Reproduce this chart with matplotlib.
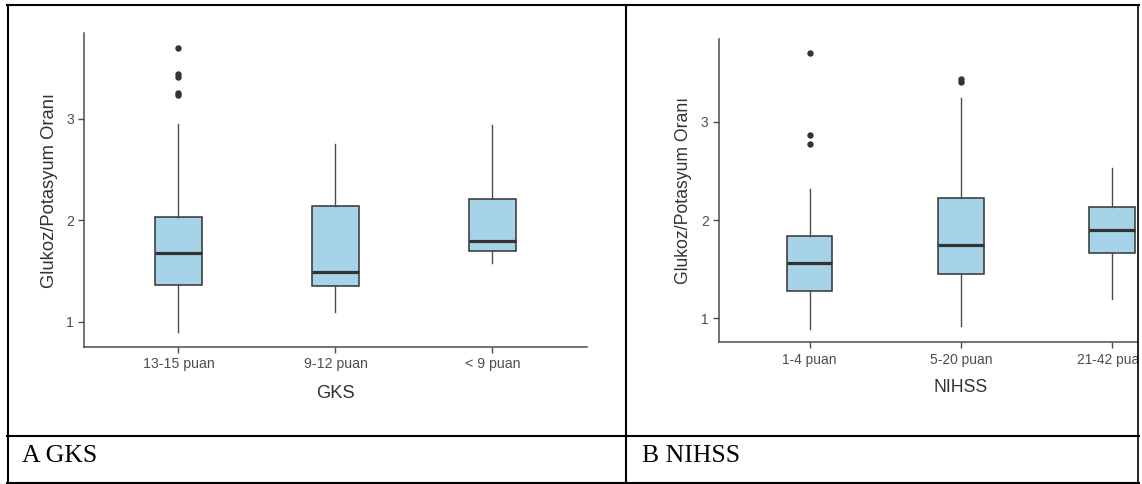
import matplotlib
matplotlib.use("Agg")
import matplotlib.pyplot as plt
from matplotlib.lines import Line2D
from matplotlib.patches import Rectangle

# -------------------------
# Data
# -------------------------

gks_labels = ["13-15 puan", "9-12 puan", "< 9 puan"]
gks_whislo = [0.90, 1.10, 1.58]
gks_q1 = [1.36, 1.35, 1.70]
gks_med = [1.68, 1.49, 1.80]
gks_q3 = [2.03, 2.14, 2.21]
gks_whishi = [2.95, 2.75, 2.94]
gks_fliers = [[3.70, 3.44, 3.41, 3.25, 3.23], [], []]

nihss_labels = ["1-4 puan", "5-20 puan", "21-42 puan"]
nihss_whislo = [0.89, 0.925, 1.20]
nihss_q1 = [1.28, 1.455, 1.66]
nihss_med = [1.56, 1.75, 1.90]
nihss_q3 = [1.84, 2.22, 2.13]
nihss_whishi = [2.32, 3.24, 2.53]
nihss_fliers = [[3.70, 2.87, 2.77], [3.44, 3.41], []]

W, H = 1142, 484
fig = plt.figure(figsize=(W / 100, H / 100), dpi=100)
plt.rcParams["font.family"] = ["Liberation Sans", "DejaVu Sans"]

fill = "#A6D3E8"
edge = "#333333"
grey = "#4D4D4D"


def box_panel(rect, labels, whislo, q1, med, q3, whishi, fliers, xlabel, tick_fs, title_fs, xpad):
    ax = fig.add_axes(rect)
    stats = []
    for i in range(len(labels)):
        stats.append(dict(whislo=whislo[i], q1=q1[i], med=med[i], q3=q3[i],
                          whishi=whishi[i], fliers=fliers[i]))
    ax.bxp(stats, positions=[1, 2, 3], widths=0.3, patch_artist=True, showcaps=False,
           boxprops=dict(facecolor=fill, edgecolor=edge, linewidth=1.1),
           medianprops=dict(color=edge, linewidth=2.3),
           whiskerprops=dict(color=grey, linewidth=1.0),
           flierprops=dict(marker="o", markerfacecolor=edge, markeredgecolor=edge,
                           markersize=3.6))
    ax.set_xlim(0.4, 3.6)
    ax.set_ylim(0.755, 3.84)
    ax.set_yticks([1, 2, 3])
    ax.set_xticks([1, 2, 3])
    ax.set_xticklabels(labels)
    for s in ["top", "right"]:
        ax.spines[s].set_visible(False)
    for s in ["left", "bottom"]:
        ax.spines[s].set_color(grey)
        ax.spines[s].set_linewidth(1.1)
    ax.tick_params(colors=grey, labelcolor=grey, labelsize=tick_fs, length=4.5, width=1.0, pad=3)
    ax.set_xlabel(xlabel, fontsize=title_fs, color="#333333", labelpad=xpad)
    ax.set_ylabel("Glukoz/Potasyum Oranı", fontsize=title_fs, color="#333333", labelpad=6)
    return ax


# left panel
box_panel([84.3 / W, 1 - 346.7 / H, 502.3 / W, 313.4 / H],
          gks_labels, gks_whislo, gks_q1, gks_med, gks_q3, gks_whishi, gks_fliers,
          "GKS", 10.2, 13.2, 10)

# right panel (cut off by the table cell on the right)
box_panel([719 / W, 1 - 342.3 / H, 483.8 / W, 303.0 / H],
          nihss_labels, nihss_whislo, nihss_q1, nihss_med, nihss_q3, nihss_whishi, nihss_fliers,
          "NIHSS", 9.9, 12.7, 9)

# white strip outside the table
fig.add_artist(Rectangle((1138.5 / W, 0), 4 / W, 1, transform=fig.transFigure,
                         facecolor="white", edgecolor="none", zorder=9))

# table borders
def hline(y, x0=7, x1=1138.5, lw=1.5):
    fig.add_artist(Line2D([x0 / W, x1 / W], [1 - y / H, 1 - y / H], color="black",
                          linewidth=lw, zorder=10, transform=fig.transFigure))


def vline(x, y0=5, y1=483, lw=1.5):
    fig.add_artist(Line2D([x / W, x / W], [1 - y0 / H, 1 - y1 / H], color="black",
                          linewidth=lw, zorder=10, transform=fig.transFigure))


hline(5)
hline(436)
hline(482.5)
vline(7.5)
vline(626)
vline(1138, lw=1.2)

# captions
serif = ["Liberation Serif", "DejaVu Serif"]
fig.text(22 / W, 1 - 462 / H, "A GKS", fontsize=18.5, family=serif, va="baseline", ha="left")
fig.text(641.5 / W, 1 - 462 / H, "B NIHSS", fontsize=18.5, family=serif, va="baseline", ha="left")

plt.savefig("out.png", dpi=100)
plt.close()
